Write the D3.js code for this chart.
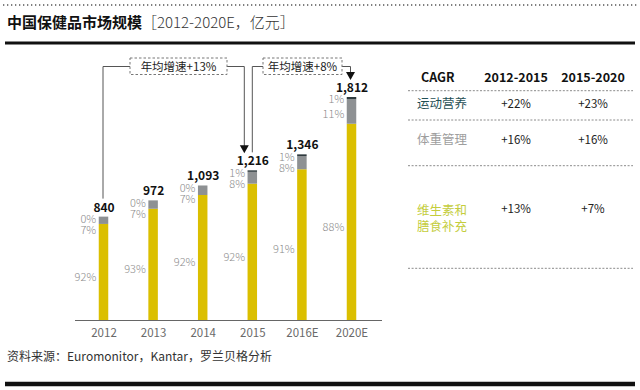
<!DOCTYPE html>
<html><head><meta charset="utf-8">
<script src="https://cdn.jsdelivr.net/npm/d3@7"></script>
<style>
body{margin:0;background:#fff;}
svg{display:block;}
text{font-family:"Noto Sans CJK SC","Noto Sans",sans-serif;}
</style></head>
<body>
<svg id="chart" width="640" height="390"></svg>
<script>
const categories = ["2012","2013","2014","2015","2016E","2020E"];
const totals = [840, 972, 1093, 1216, 1346, 1812];
const vitaminShare = [92, 93, 92, 92, 91, 88];
const weightShare = [7, 7, 7, 8, 8, 11];
const sportsShare = [0, 0, 0, 1, 1, 1];
const cagrHeaders = ["CAGR", "2012-2015", "2015-2020"];
const cagrRows = [
  {name:["运动营养"], a:"+22%", b:"+23%"},
  {name:["体重管理"], a:"+16%", b:"+16%"},
  {name:["维生素和","膳食补充"], a:"+13%", b:"+7%"}
];
const growthLabels = ["年均增速+13%", "年均增速+8%"];

const colors = {vit:"#dbbf00", weight:"#8e9193", sports:"#2f3a3e"};
const svg = d3.select("#chart");

// frame
svg.append("line").attr("x1",3).attr("x2",637).attr("y1",5).attr("y2",5)
  .attr("stroke","#555").attr("stroke-width",1.3).attr("stroke-dasharray","1.3,2.7");
svg.append("line").attr("x1",5).attr("x2",635).attr("y1",43).attr("y2",43)
  .attr("stroke","#111").attr("stroke-width",3);
svg.append("line").attr("x1",5).attr("x2",635).attr("y1",384).attr("y2",384)
  .attr("stroke","#111").attr("stroke-width",4.5);

const title = svg.append("text").attr("x",7).attr("y",28).attr("font-size",15);
title.append("tspan").attr("font-weight","bold").attr("fill","#111").text("中国保健品市场规模");
title.append("tspan").attr("fill","#333").attr("font-weight",300).text("［2012-2020E，亿元］");

svg.append("text").attr("x",7).attr("y",361).attr("font-size",12).attr("fill","#333")
  .text("资料来源：Euromonitor，Kantar，罗兰贝格分析");

// scales
const x = d3.scalePoint().domain(categories).range([103.5, 351.5]);
const y = d3.scaleLinear().domain([0, 1812]).range([320, 97]);
const bw = 9.5;

const data = categories.map((c,i)=>{
  const s = vitaminShare[i]+weightShare[i]+sportsShare[i];
  const v = totals[i]*vitaminShare[i]/s;
  const w = totals[i]*weightShare[i]/s;
  return {c, total:totals[i], v, w, vs:vitaminShare[i], ws:weightShare[i], ss:sportsShare[i]};
});

// axis
const ax = svg.append("g").attr("transform","translate(0,320)")
  .call(d3.axisBottom(x).tickSize(0).tickPadding(9));
ax.select(".domain").remove();
ax.selectAll("text").attr("font-size",11.5).attr("fill","#6a6a6a")
  .attr("font-family","'Open Sans','Noto Sans',sans-serif");
svg.append("line").attr("x1",75).attr("x2",382).attr("y1",320.5).attr("y2",320.5)
  .attr("stroke","#666").attr("stroke-width",1);

const g = svg.append("g");
data.forEach(d=>{
  const cx = x(d.c);
  g.append("rect").attr("x",cx-bw/2).attr("width",bw).attr("y",y(d.v)).attr("height",y(0)-y(d.v)).attr("fill",colors.vit);
  g.append("rect").attr("x",cx-bw/2).attr("width",bw).attr("y",y(d.v+d.w)).attr("height",y(d.v)-y(d.v+d.w)).attr("fill",colors.weight);
  g.append("rect").attr("x",cx-bw/2).attr("width",bw).attr("y",y(d.total)).attr("height",y(d.v+d.w)-y(d.total)).attr("fill",colors.sports);
  const top = y(d.total);
  g.append("text").attr("x",cx+0.5).attr("y",top-5).attr("text-anchor","middle")
    .attr("font-size",12).attr("font-weight","bold").attr("fill","#111")
    .attr("font-family","'Open Sans','Noto Sans',sans-serif").text(d3.format(",")(d.total));
  const lx = cx-bw/2-2.5;
  const pctStyle = t=>t.attr("text-anchor","end").attr("font-size",11).attr("fill","#8c8c8c")
      .attr("font-family","'Open Sans','Noto Sans',sans-serif").attr("font-weight",300).attr("dy","0.35em");
  g.append("text").attr("x",lx).attr("y",top+2.5).call(pctStyle).text(d.ss+"%");
  const gm = (y(d.v)+y(d.v+d.w))/2;
  g.append("text").attr("x",lx).attr("y",Math.max(top+13.5, gm+3)).call(pctStyle).text(d.ws+"%");
  g.append("text").attr("x",lx).attr("y",(y(0)+y(d.v))/2+5).call(pctStyle).text(d.vs+"%");
});

// growth brackets
const lineY = 66.5;
function bracket(fromCat, toCat, label, boxX0, boxX1, startOff, endOff){
  const x0 = x(fromCat)+startOff, x1 = x(toCat)+endOff;
  const yStart = y(totals[categories.indexOf(fromCat)])-18;
  const yEnd = y(totals[categories.indexOf(toCat)])-17;
  const a = svg.append("g").attr("fill","none");
  a.append("path").attr("d",`M${x0},${yStart}V${lineY}H${boxX0}M${boxX1},${lineY}H${x1}V${yEnd-7}`)
    .attr("stroke","#555").attr("stroke-width",1);
  a.append("path").attr("d",`M${x1-4.5},${yEnd-8}L${x1+4.5},${yEnd-8}L${x1},${yEnd}Z`).attr("fill","#111");
  svg.append("rect").attr("x",boxX0).attr("y",58).attr("width",boxX1-boxX0).attr("height",16.5)
    .attr("fill","#fff").attr("stroke","#777").attr("stroke-dasharray","2.5,2");
  svg.append("text").attr("x",(boxX0+boxX1)/2).attr("y",lineY).attr("dy","0.36em")
    .attr("text-anchor","middle").attr("font-size",11.5).attr("fill","#222").text(label);
}
bracket("2012","2015",growthLabels[0],130,227,-0.5,-8);
bracket("2015","2020E",growthLabels[1],263,342,0,-1);

// CAGR table
const tx = [421, 516, 593];
cagrHeaders.forEach((h,i)=>{
  svg.append("text").attr("x",tx[i]).attr("y",82).attr("text-anchor",i===0?"start":"middle")
    .attr("font-size",12.5).attr("font-weight",i===0?"bold":600).attr("fill","#111")
    .attr("font-family","'Open Sans','Noto Sans',sans-serif").text(h);
});
const sepY = [90.7, 120, 165.7, 268.3];
sepY.forEach(sy=>svg.append("line").attr("x1",408).attr("x2",633).attr("y1",sy).attr("y2",sy)
  .attr("stroke","#8a8a8a").attr("stroke-dasharray","2,1.6").attr("stroke-width",1));
const rowY = [103.5, 139.5, 210];
const rowColors = ["#1f4f55","#9e9e9e","#c4cd3c"];
cagrRows.forEach((r,i)=>{
  r.name.forEach((n,j)=>svg.append("text").attr("x",417).attr("y",rowY[i]+j*16).attr("dy","0.36em")
    .attr("font-size",12.5).attr("fill",rowColors[i]).text(n));
  [r.a,r.b].forEach((v,k)=>svg.append("text").attr("x",tx[k+1]).attr("y",rowY[i]-(i===2?1:0)).attr("dy","0.36em")
    .attr("text-anchor","middle").attr("font-size",11.5).attr("fill","#222")
    .attr("font-family","'Open Sans','Noto Sans',sans-serif").text(v));
});
</script>
</body></html>
